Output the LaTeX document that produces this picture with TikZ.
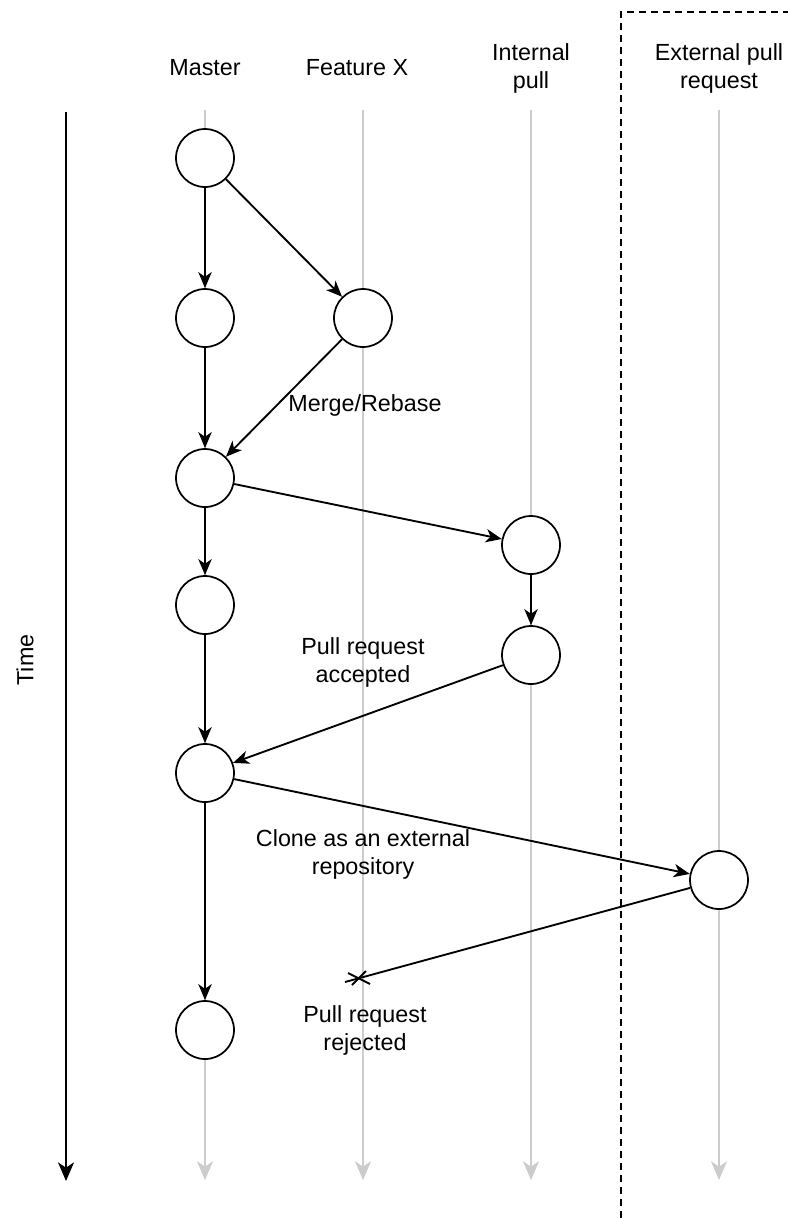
\documentclass[tikz,border=0pt]{standalone}
\usepackage{fontspec}
\setmainfont{Liberation Sans}
\usetikzlibrary{arrows.meta}
\definecolor{lanegray}{HTML}{CCCCCC}
\begin{document}
\begin{tikzpicture}[x=0.75pt,y=-0.75pt,
  commit/.style={circle,draw=black,line width=1.3pt,fill=white,minimum size=43.5pt,inner sep=0pt},
  lbl/.style={font=\fontsize{17.5}{21}\selectfont,align=center,inner sep=0pt},
  flow/.style={line width=1.4pt,-{Stealth[length=12pt,width=10pt,inset=3.5pt]}},
  lane/.style={draw=lanegray,line width=1.5pt,-{Stealth[length=14pt,width=12pt,inset=4pt]}}]
\useasboundingbox (0,0) rectangle (788,1218);
% lanes
\coordinate (mt) at (205,110); \coordinate (mb) at (205,1180);
\coordinate (ft) at (363,110); \coordinate (fb) at (363,1180);
\coordinate (it) at (531,110); \coordinate (ib) at (531,1180);
\coordinate (et) at (719,110); \coordinate (eb) at (719,1180);
\draw[lane] (mt) -- (mb);
\draw[lane] (ft) -- (fb);
\draw[lane] (it) -- (ib);
\draw[lane] (et) -- (eb);
% time
\coordinate (tt) at (66,112); \coordinate (tb) at (66,1181);
\draw[line width=1.5pt,-{Stealth[length=14pt,width=12pt,inset=4pt]}] (tt) -- (tb);
\node[lbl,rotate=90] (time) at (25,660) {Time};
% dashed boundary
\coordinate (d1) at (621,1218); \coordinate (d2) at (621,12); \coordinate (d3) at (788,12);
\draw[line width=1.2pt,dash pattern=on 5pt off 4pt] (d1) -- (d2) -- (d3);
% headers
\node[lbl] (hm) at (205,68) {Master};
\node[lbl] (hf) at (357,68) {Feature X};
\node[lbl] (hi) at (531,68) {Internal\\pull};
\node[lbl] (he) at (719,68) {External pull\\request};
% commits
\node[commit] (m1) at (205,158) {};
\node[commit] (m2) at (205,318) {};
\node[commit] (f1) at (363,318) {};
\node[commit] (m3) at (205,478) {};
\node[commit] (i1) at (531,545) {};
\node[commit] (m4) at (205,605) {};
\node[commit] (i2) at (531,655) {};
\node[commit] (m5) at (205,773) {};
\node[commit] (e1) at (719,880) {};
\node[commit] (m6) at (205,1030) {};
% edges
\draw[flow] (m1) -- (m2);
\draw[flow] (m1) -- (f1);
\draw[flow] (m2) -- (m3);
\draw[flow] (f1) -- (m3);
\draw[flow] (m3) -- (i1);
\draw[flow] (m3) -- (m4);
\draw[flow] (i1) -- (i2);
\draw[flow] (m4) -- (m5);
\draw[flow] (i2) -- (m5);
\draw[flow] (m5) -- (e1);
\draw[flow] (m5) -- (m6);
\coordinate (rej) at (345,982);
\coordinate (xc) at (359,978);
\draw[line width=1.4pt] (e1) -- (rej);
\draw[line width=1.4pt] ([shift={(-11,-5)}]xc) -- ([shift={(11,6)}]xc);
\draw[line width=1.4pt] ([shift={(-7,7)}]xc) -- ([shift={(7,-7)}]xc);
% labels
\node[lbl] (lmr) at (365,405) {Merge/Rebase};
\node[lbl] (lpa) at (363,662) {Pull request\\accepted};
\node[lbl] (lce) at (363,854) {Clone as an external\\repository};
\node[lbl] (lpr) at (365,1030) {Pull request\\rejected};
\end{tikzpicture}
\end{document}
